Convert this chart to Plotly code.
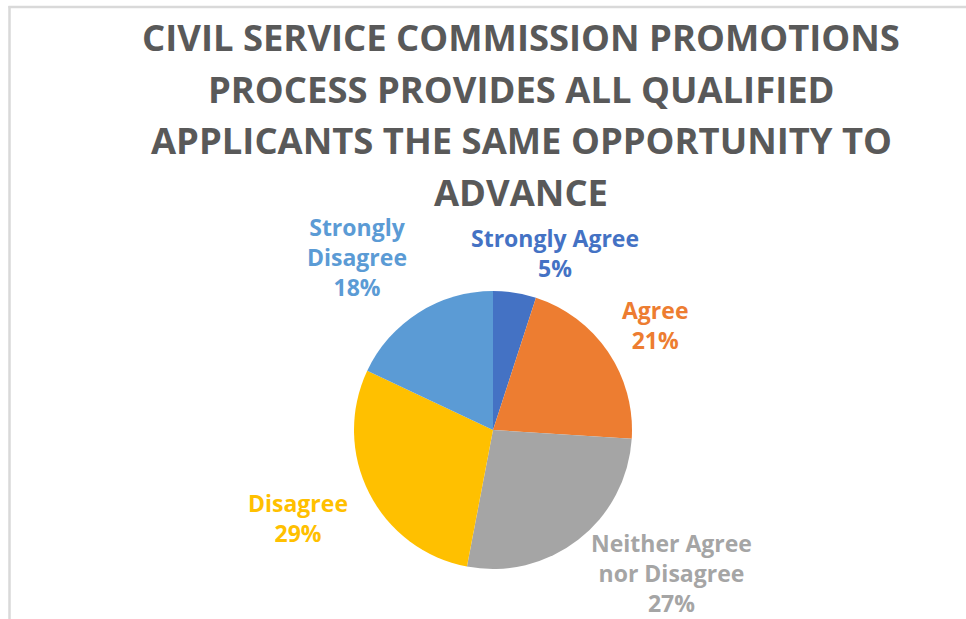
import plotly.graph_objects as go

# Survey responses
categories = ["Strongly Agree", "Agree", "Neither Agree<br>nor Disagree", "Disagree", "Strongly<br>Disagree"]
percentages = [5, 21, 27, 29, 18]
slice_colors = ["#4472C4", "#ED7D31", "#A5A5A5", "#FFC000", "#5B9BD5"]

title_lines = [
    "CIVIL SERVICE COMMISSION PROMOTIONS",
    "PROCESS PROVIDES ALL QUALIFIED",
    "APPLICANTS THE SAME OPPORTUNITY TO",
    "ADVANCE",
]

W, H = 966, 619
cx, cy, r = 493, 430, 139

# label anchor points (pixels, from top-left), one per slice
label_pos = [(555, 253), (655, 325), (671, 573), (298, 518), (357, 257)]

FONT = "Liberation Sans Narrow, Open Sans, sans-serif"

fig = go.Figure(
    go.Pie(
        labels=[c.replace("<br>", " ") for c in categories],
        values=percentages,
        marker=dict(colors=slice_colors, line=dict(width=0)),
        sort=False,
        direction="clockwise",
        rotation=0,
        textinfo="none",
        hoverinfo="label+percent",
        showlegend=False,
        domain=dict(
            x=[(cx - r) / W, (cx + r) / W],
            y=[1 - (cy + r) / H, 1 - (cy - r) / H],
        ),
    )
)

annotations = []
for i, line in enumerate(title_lines):
    annotations.append(dict(
        text=line, x=521 / W, y=1 - (37 + 51.5 * i) / H,
        xref="paper", yref="paper", xanchor="center", yanchor="middle",
        showarrow=False,
        font=dict(family=FONT, size=36.4, color="#595959", weight="bold"),
    ))

for cat, pct, col, (px, py) in zip(categories, percentages, slice_colors, label_pos):
    annotations.append(dict(
        text=f"{cat}<br>{pct}%", x=px / W, y=1 - py / H,
        xref="paper", yref="paper", xanchor="center", yanchor="middle",
        showarrow=False, align="center",
        font=dict(family=FONT, size=23, color=col, weight="bold"),
    ))

shapes = [
    dict(type="line", xref="paper", yref="paper",
         x0=8.5 / W, x1=1, y0=1 - 7 / H, y1=1 - 7 / H,
         line=dict(color="#D9D9D9", width=2.5)),
    dict(type="line", xref="paper", yref="paper",
         x0=9.5 / W, x1=9.5 / W, y0=0, y1=1 - 6 / H,
         line=dict(color="#D9D9D9", width=2.5)),
]

fig.update_layout(
    width=W, height=H,
    margin=dict(l=0, r=0, t=0, b=0),
    paper_bgcolor="white",
    plot_bgcolor="white",
    annotations=annotations,
    shapes=shapes,
)

fig.write_html("out.html")
